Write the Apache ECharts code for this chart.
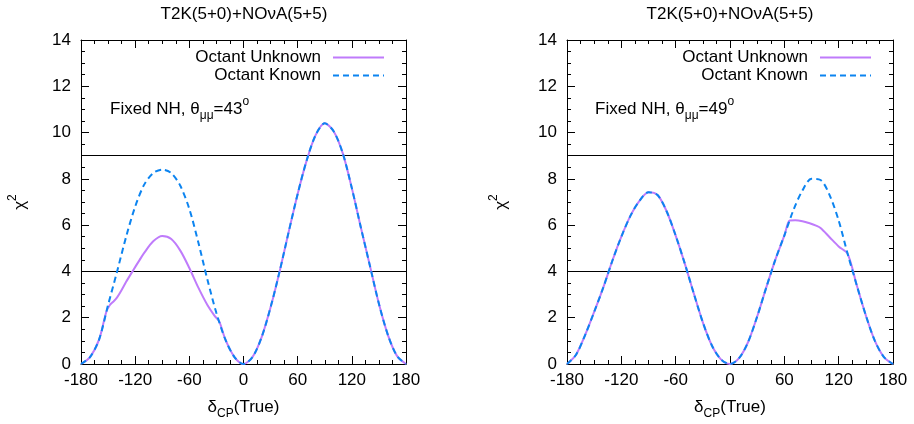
<!DOCTYPE html>
<html><head><meta charset="utf-8">
<script src="https://cdn.jsdelivr.net/npm/echarts@6/dist/echarts.min.js"></script>
<style>html,body{margin:0;padding:0;background:#fff}#c{width:914px;height:424px}</style>
</head><body><div id="c"></div>
<script>
// ---- data ----
const deltaCP = [-180,-170,-160,-150,-140,-130,-120,-110,-100,-90,-80,-70,-60,-50,-40,-30,-20,-10,0,10,20,30,40,50,60,70,80,90,100,110,120,130,140,150,160,170,180];

// Left panel (theta_mumu = 43 deg)
const leftKnown = [0,0.3,1.05,2.55,4.0,5.5,6.8,7.75,8.25,8.4,8.25,7.7,6.7,5.25,3.65,2.2,1.05,0.3,0,0.3,1.15,2.45,4.0,5.7,7.35,8.8,9.9,10.4,10.05,9.1,7.6,5.9,4.25,2.6,1.25,0.35,0];
const leftUnknownX = [-180,-170,-160,-152,-148,-144,-140,-135,-130,-123,-115,-110,-100,-90,-80,-70,-60,-50,-40,-32,-27,-20,-10,0,10,20,30,40,50,60,70,80,90,100,110,120,130,140,150,160,170,180];
const leftUnknown = [0,0.3,1.05,2.25,2.55,2.7,2.88,3.2,3.55,4.0,4.5,4.8,5.3,5.53,5.4,4.9,4.15,3.3,2.55,2.08,1.85,1.05,0.3,0,0.3,1.15,2.45,4.0,5.7,7.35,8.8,9.9,10.4,10.05,9.1,7.6,5.9,4.25,2.6,1.25,0.35,0];

// Right panel (theta_mumu = 49 deg)
const rightKnown = [0,0.4,1.25,2.25,3.3,4.45,5.5,6.4,7.05,7.42,7.3,6.6,5.55,4.35,3.05,1.8,0.8,0.2,0,0.25,0.95,2.05,3.3,4.5,5.55,6.65,7.5,8.0,7.95,7.3,6.2,4.75,3.4,2.1,1.0,0.3,0];
const rightUnknownX = [-180,-170,-160,-150,-140,-130,-120,-110,-100,-90,-80,-70,-60,-50,-40,-30,-20,-10,0,10,20,30,40,50,60,66,72,80,88,95,100,110,120,130,140,150,160,170,180];
const rightUnknown = [0,0.4,1.25,2.25,3.3,4.45,5.5,6.4,7.05,7.42,7.3,6.6,5.55,4.35,3.05,1.8,0.8,0.2,0,0.25,0.95,2.05,3.3,4.5,5.55,6.2,6.21,6.17,6.08,5.98,5.88,5.48,5.08,4.75,3.4,2.1,1.0,0.3,0];

const thresholds = [4, 9];
const xRange = [-180, 180];
const yRange = [0, 14];
const panelTitles = ['T2K(5+0)+NOνA(5+5)', 'T2K(5+0)+NOνA(5+5)'];
const thetaValues = ['43', '49'];
const seriesNames = ['Octant Unknown', 'Octant Known'];

// ---- chart ----
const FONT = 'Liberation Sans, Arial, Helvetica, sans-serif';
const PURPLE = '#bf7bfb';
const BLUE = '#0c84f0';

const grids = [
  {left: 81, top: 40, width: 325, height: 324, outerBoundsMode: 'none'},
  {left: 567, top: 40, width: 326, height: 324, outerBoundsMode: 'none'}
];

const tickCommon = {
  axisTick: {show: true, inside: true, length: 8, lineStyle: {color: '#000', width: 1}},
  minorTick: {show: true, splitNumber: 4, length: 4, lineStyle: {color: '#000', width: 1}},
  splitLine: {show: false},
  minorSplitLine: {show: false},
  axisLine: {show: true, onZero: false, lineStyle: {color: '#000', width: 1}}
};

const xNameRich = {
  a: {fontSize: 17, fontFamily: FONT, color: '#000', lineHeight: 26},
  s: {fontSize: 12, fontFamily: FONT, color: '#000', lineHeight: 12, verticalAlign: 'bottom'}
};
const yNameRich = {
  a: {fontSize: 17, fontFamily: FONT, color: '#000', lineHeight: 26},
  p: {fontSize: 12, fontFamily: FONT, color: '#000', lineHeight: 16, verticalAlign: 'top'}
};

const xAxes = [], yAxes = [];
[0, 1].forEach(g => {
  xAxes.push(Object.assign({
    type: 'value', gridIndex: g, position: 'bottom', min: xRange[0], max: xRange[1], interval: 60,
    axisLabel: {show: true, fontSize: 17, fontFamily: FONT, color: '#000', margin: 8},
    name: '{a|δ}{s|CP}{a|(True)}', nameLocation: 'middle', nameGap: 30,
    nameTextStyle: {rich: xNameRich}
  }, tickCommon));
  xAxes.push(Object.assign({
    type: 'value', gridIndex: g, position: 'top', min: xRange[0], max: xRange[1], interval: 60,
    axisLabel: {show: false}
  }, tickCommon));
  yAxes.push(Object.assign({
    type: 'value', gridIndex: g, position: 'left', min: yRange[0], max: yRange[1], interval: 2,
    axisLabel: {show: true, fontSize: 17, fontFamily: FONT, color: '#000', margin: 10},
    name: '{a|χ}{p|2}', nameLocation: 'middle', nameRotate: 90, nameGap: g === 0 ? 48 : 53,
    nameTextStyle: {rich: yNameRich}
  }, tickCommon));
  yAxes.push(Object.assign({
    type: 'value', gridIndex: g, position: 'right', min: yRange[0], max: yRange[1], interval: 2,
    axisLabel: {show: false}
  }, tickCommon));
});

function pairs(xs, ys) { return xs.map((x, i) => [x, ys[i]]); }

const panelData = [
  {known: pairs(deltaCP, leftKnown), unknown: pairs(leftUnknownX, leftUnknown)},
  {known: pairs(deltaCP, rightKnown), unknown: pairs(rightUnknownX, rightUnknown)}
];

const series = [];
panelData.forEach((p, g) => {
  series.push({
    type: 'line', name: seriesNames[0], xAxisIndex: 2 * g, yAxisIndex: 2 * g,
    data: p.unknown, showSymbol: false, symbol: 'none', smooth: 0.3, z: 3,
    lineStyle: {color: PURPLE, width: 2}, itemStyle: {color: PURPLE},
    markLine: {
      silent: true, symbol: ['none', 'none'], label: {show: false}, z: 1,
      lineStyle: {color: '#000', width: 1, type: 'solid'},
      emphasis: {disabled: true},
      data: thresholds.map(v => ({yAxis: v}))
    }
  });
  series.push({
    type: 'line', name: seriesNames[1], xAxisIndex: 2 * g, yAxisIndex: 2 * g,
    data: p.known, showSymbol: false, symbol: 'none', smooth: 0.3, z: 4,
    lineStyle: {color: BLUE, width: 2, type: [6, 4]}, itemStyle: {color: BLUE}
  });
});

const legendCommon = {
  orient: 'horizontal', align: 'right', itemWidth: 51, itemHeight: 14, padding: 0,
  selectedMode: false,
  itemStyle: {opacity: 0},
  textStyle: {fontSize: 17, fontFamily: FONT, color: '#000', padding: [0, 7, 0, 0]}
};
const legendRight = [529, 42];
const legends = [];
[0, 1].forEach(g => {
  legends.push(Object.assign({data: [seriesNames[0]], right: legendRight[g], top: 49}, legendCommon));
  legends.push(Object.assign({data: [seriesNames[1]], right: legendRight[g], top: 67}, legendCommon));
});

const titleX = [244, 730];
const annotX = [110, 595];
const graphics = [];
[0, 1].forEach(g => {
  graphics.push({
    type: 'text', x: titleX[g], y: 14, silent: true,
    style: {text: panelTitles[g], font: '17px ' + FONT, fill: '#000', align: 'center', verticalAlign: 'middle'}
  });
  graphics.push({
    type: 'text', x: annotX[g], y: 109, silent: true,
    style: {
      text: '{a|Fixed NH, θ}{s|μμ}{a|=' + thetaValues[g] + '}{p|o}',
      align: 'left', verticalAlign: 'middle', fill: '#000',
      rich: {
        a: {fontSize: 17, fontFamily: FONT, fill: '#000', lineHeight: 26},
        s: {fontSize: 12, fontFamily: FONT, fill: '#000', lineHeight: 12, verticalAlign: 'bottom'},
        p: {fontSize: 12, fontFamily: FONT, fill: '#000', lineHeight: 16, verticalAlign: 'top'}
      }
    }
  });
});

const chart = echarts.init(document.getElementById('c'), null, {renderer: 'canvas'});
chart.setOption({
  animation: false,
  backgroundColor: '#fff',
  grid: grids,
  xAxis: xAxes,
  yAxis: yAxes,
  legend: legends,
  series: series,
  graphic: graphics
});
</script>
</body></html>
